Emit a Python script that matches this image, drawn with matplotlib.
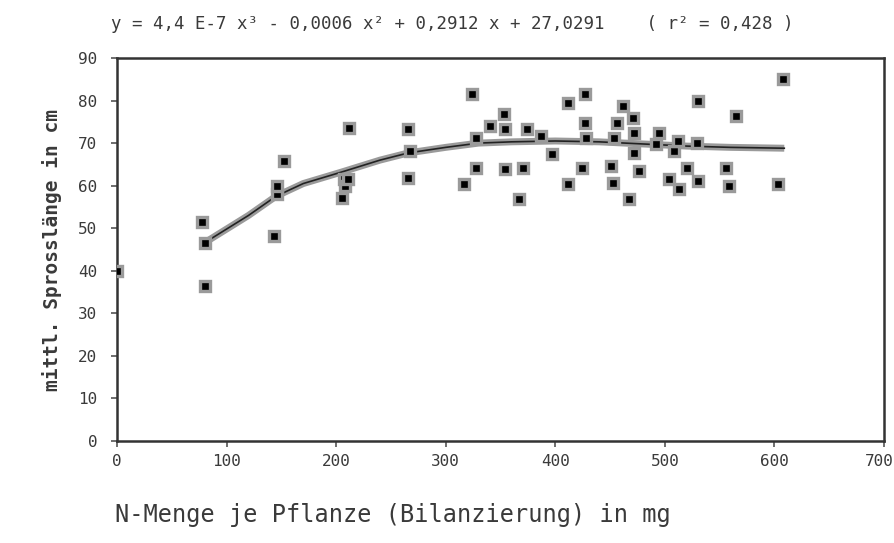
import matplotlib.pyplot as plt
from matplotlib.transforms import ScaledTranslation

# N-Menge je Pflanze (mg) und mittlere Sprosslänge (cm)
n_menge = [0, 78, 80, 80, 143, 146, 146, 152, 205, 207, 208, 211, 212,
           266, 266, 267, 317, 324, 328, 328, 340, 353, 354, 354, 367, 371,
           374, 387, 397, 412, 412, 424, 427, 427, 428, 451, 453, 454, 456,
           462, 467, 471, 472, 472, 476, 492, 495, 504, 508, 512, 513, 520,
           529, 530, 530, 556, 559, 565, 603, 608]
sprosslaenge = [40, 51.5, 46.6, 36.5, 48.2, 58.0, 60.0, 65.8, 57.0, 61.6,
                60.0, 61.5, 73.5, 73.3, 61.8, 68.2, 60.4, 81.5, 71.2, 64.2,
                74.0, 76.9, 73.3, 63.9, 56.9, 64.2, 73.3, 71.7, 67.4, 79.4,
                60.4, 64.2, 81.5, 74.7, 71.2, 64.6, 60.7, 71.2, 74.7, 78.7,
                56.9, 75.9, 72.4, 67.7, 63.5, 69.8, 72.4, 61.6, 68.1, 70.5,
                59.2, 64.2, 70.0, 79.9, 61.1, 64.2, 60.0, 76.3, 60.4, 85.0]

fit_x = [80, 120, 145, 170, 205, 240, 266, 300, 330, 360, 400, 440, 480,
         520, 560, 609]
fit_y = [46.6, 53.0, 57.5, 60.5, 63.2, 66.0, 67.7, 69.0, 70.0, 70.3, 70.5,
         70.3, 69.8, 69.3, 69.0, 68.8]

x_ticks = [0, 100, 200, 300, 400, 500, 600, 700]
y_ticks = [0, 10, 20, 30, 40, 50, 60, 70, 80, 90]

title = "y = 4,4 E-7 x\u00b3 - 0,0006 x\u00b2 + 0,2912 x + 27,0291    ( r\u00b2 = 0,428 )"
text_color = "#3a3a3a"
plt.rcParams["font.family"] = ["DejaVu Sans Mono", "DejaVu Sans"]

fig = plt.figure(figsize=(8.95, 5.43), dpi=100)
ax = fig.add_axes([0.1307, 0.1878, 0.8570, 0.7054])

ax.plot(fit_x, fit_y, color="#9a9a9a", lw=5, solid_capstyle="butt", zorder=2)
ax.plot(fit_x, fit_y, color="#222222", lw=1.2, zorder=3)
ax.plot(n_menge, sprosslaenge, ls="none", marker="s", ms=6.5,
        mfc="black", mec="#9a9a9a", mew=2.4, zorder=4)

ax.set_xlim(0, 700)
ax.set_ylim(0, 90)
ax.set_xticks(x_ticks)
ax.set_yticks(y_ticks)
ax.tick_params(direction="out", length=4, width=1.2, colors="#555555",
               labelcolor=text_color, labelsize=11.5)
ax.tick_params(axis="y", pad=10)
ax.tick_params(axis="x", pad=5)
for spine in ax.spines.values():
    spine.set_color("#333333")
    spine.set_linewidth(1.8)

# letzte x-Beschriftung etwas nach links, damit sie im Bild bleibt
last = ax.get_xticklabels()[-1]
last.set_transform(last.get_transform()
                   + ScaledTranslation(-0.05, 0, fig.dpi_scale_trans))

ax.set_title(title, fontsize=12.5, color=text_color, pad=21, x=0.437)
ax.set_ylabel("mittl. Sprosslänge in cm", fontsize=14, color=text_color,
              fontweight="bold", labelpad=12)
ax.set_xlabel("N-Menge je Pflanze (Bilanzierung) in mg", fontsize=17,
              color=text_color, labelpad=25, x=0.36)

fig.savefig("out.png", dpi=100, facecolor="white")
